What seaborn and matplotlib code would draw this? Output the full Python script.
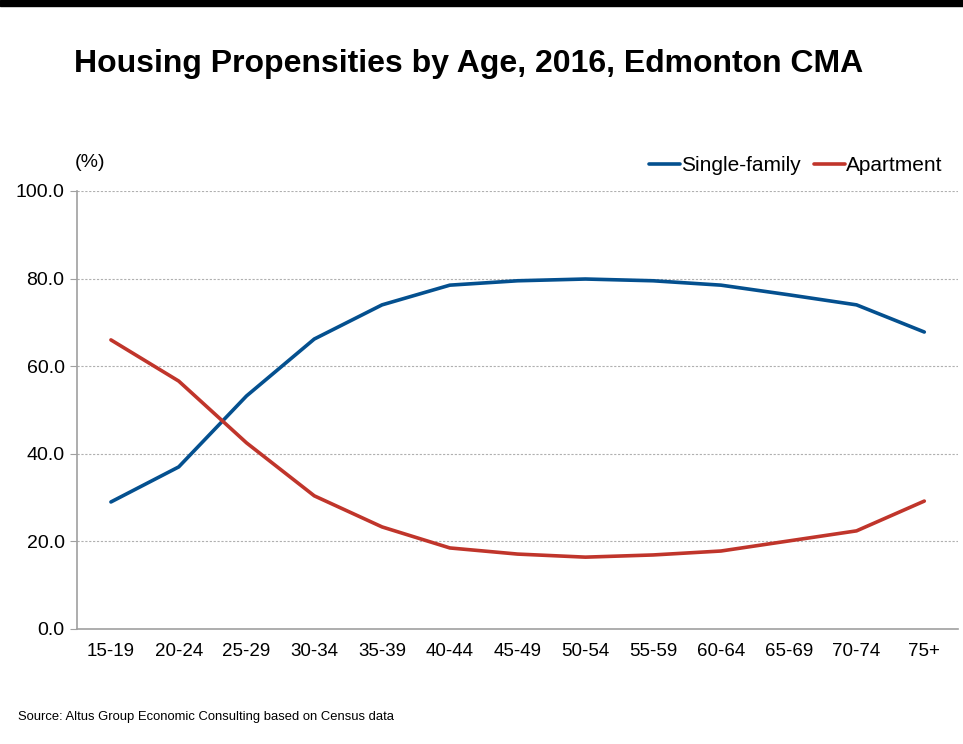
import matplotlib
matplotlib.use("Agg")
import matplotlib.pyplot as plt
import pandas as pd
import seaborn as sns
from matplotlib.ticker import FixedLocator

age_groups = ["15-19", "20-24", "25-29", "30-34", "35-39", "40-44", "45-49",
              "50-54", "55-59", "60-64", "65-69", "70-74", "75+"]
single_family = [29.0, 37.0, 53.2, 66.2, 74.0, 78.5, 79.5, 79.9, 79.5, 78.5,
                 76.3, 74.0, 67.8]
apartment = [66.0, 56.6, 42.5, 30.4, 23.3, 18.5, 17.1, 16.4, 16.9, 17.8,
             20.1, 22.4, 29.2]

df = pd.DataFrame({
    "age": age_groups * 2,
    "pct": single_family + apartment,
    "type": ["Single-family"] * len(age_groups) + ["Apartment"] * len(age_groups),
})

sns.set_style("white")
plt.rcParams["font.family"] = ["Liberation Sans", "DejaVu Sans"]
plt.rcParams["text.color"] = "black"
plt.rcParams["xtick.color"] = "black"
plt.rcParams["ytick.color"] = "black"

fig = plt.figure(figsize=(9.63, 7.44), dpi=100)
ax = fig.add_axes([0.08, 0.1546, 0.915, 0.5887])

palette = {"Single-family": "#04508F", "Apartment": "#C0352B"}
sns.lineplot(data=df, x="age", y="pct", hue="type", palette=palette,
             linewidth=2.6, sort=False, ax=ax)

ax.set_xlim(-0.5, len(age_groups) - 0.5)
ax.set_ylim(0, 100)
ax.set_yticks([0, 20, 40, 60, 80, 100])
ax.set_yticklabels([f"{v:.1f}" for v in [0, 20, 40, 60, 80, 100]], fontsize=14)
ax.set_xticks(range(len(age_groups)))
ax.set_xticklabels(age_groups, fontsize=13.5)
ax.xaxis.set_minor_locator(FixedLocator([i - 0.5 for i in range(len(age_groups) + 1)]))
ax.tick_params(axis="x", which="major", length=0, pad=10)
ax.tick_params(axis="x", which="minor", length=6, color="#A0A0A0", direction="out")
ax.tick_params(axis="y", length=5, color="#A0A0A0", direction="out", pad=4, left=True)
ax.set_xlabel("")
ax.set_ylabel("")

for y in [20, 40, 60, 80, 100]:
    ax.axhline(y, color="#B0B0B0", linestyle=(0, (2, 1.5)), linewidth=0.8, zorder=0)

for side in ["top", "right"]:
    ax.spines[side].set_visible(False)
for side in ["left", "bottom"]:
    ax.spines[side].set_color("#A0A0A0")
    ax.spines[side].set_linewidth(1.2)

leg = ax.legend(loc="lower right", bbox_to_anchor=(1.0, 1.0), ncol=2, frameon=False,
                fontsize=15, handlelength=1.5, handletextpad=0.05,
                columnspacing=0.6, borderaxespad=0.35)

fig.text(0.078, 0.781, "(%)", fontsize=14, va="center")
fig.text(0.077, 0.914, "Housing Propensities by Age, 2016, Edmonton CMA",
         fontsize=23, fontweight="bold", va="center")
fig.text(0.019, 0.036, "Source: Altus Group Economic Consulting based on Census data",
         fontsize=9.4, va="center")

fig.add_artist(plt.Rectangle((0.0, 0.992), 1.0, 0.008, transform=fig.transFigure,
                             color="black"))

fig.savefig("out.png", dpi=100)
